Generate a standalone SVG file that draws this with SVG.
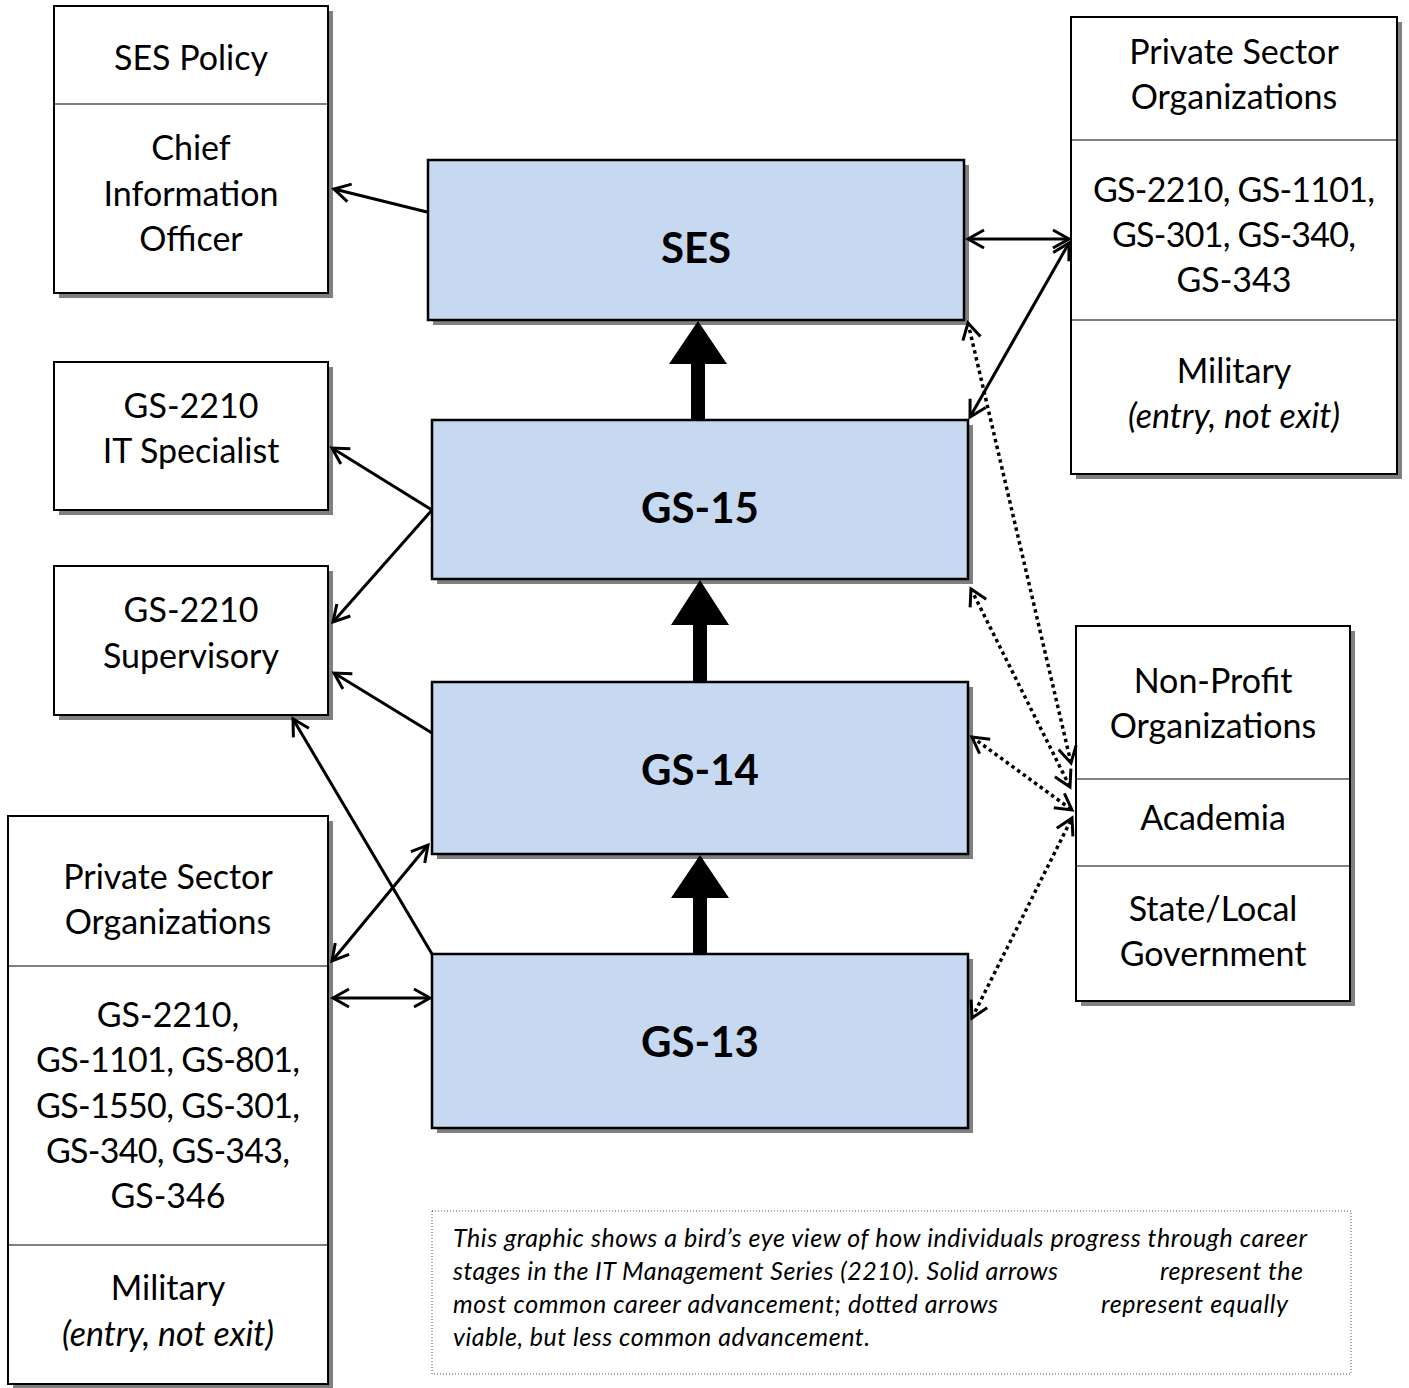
<svg xmlns="http://www.w3.org/2000/svg" width="1409" height="1388" viewBox="0 0 1409 1388">
<style>
.sh{fill:#808080;}
.box{fill:#fff;stroke:#000;stroke-width:2;}
.blue{fill:#C6D9F1;stroke:#000;stroke-width:2.5;}
.div{stroke:#808080;stroke-width:2;}
.t{font-family:Lato,"Open Sans",sans-serif;font-size:34px;fill:#000;text-anchor:middle;}
.it{font-style:italic;}
.b{font-family:Lato,"Open Sans",sans-serif;font-size:42px;font-weight:bold;fill:#000;text-anchor:middle;}
.c{font-family:Lato,"Open Sans",sans-serif;font-size:25px;font-style:italic;fill:#000;}
.ln{fill:none;stroke:#000;stroke-width:3;}
.dt{fill:none;stroke:#000;stroke-width:3.5;stroke-dasharray:3.5 3.5;}
.fat{fill:#000;}
</style>
<defs>
<marker id="ah" markerUnits="userSpaceOnUse" markerWidth="40" markerHeight="40" viewBox="-20 -20 40 40" refX="0" refY="0" orient="auto-start-reverse" overflow="visible">
<path d="M-16,-9 L0,0 L-16,9" fill="none" stroke="#000" stroke-width="3"/>
</marker>
</defs>
<rect width="1409" height="1388" fill="#fff"/>

<g id="ses-policy">
<rect class="sh" x="59" y="11" width="274" height="287"/>
<rect class="box" x="54" y="6" width="274" height="287"/>
<line class="div" x1="55" y1="104" x2="327" y2="104"/>
<text class="t" x="191" y="70">SES Policy</text>
<text class="t" x="191" y="160">Chief</text>
<text class="t" x="191" y="206">Information</text>
<text class="t" x="191" y="251">Officer</text>
</g>

<g id="it-specialist">
<rect class="sh" x="59" y="367" width="274" height="148"/>
<rect class="box" x="54" y="362" width="274" height="148"/>
<text class="t" x="191" y="418">GS-2210</text>
<text class="t" x="191" y="463">IT Specialist</text>
</g>

<g id="supervisory">
<rect class="sh" x="59" y="571" width="274" height="149"/>
<rect class="box" x="54" y="566" width="274" height="149"/>
<text class="t" x="191" y="622">GS-2210</text>
<text class="t" x="191" y="668">Supervisory</text>
</g>

<g id="private-left">
<rect class="sh" x="13" y="821" width="320" height="568"/>
<rect class="box" x="8" y="816" width="320" height="568"/>
<line class="div" x1="9" y1="966" x2="327" y2="966"/>
<line class="div" x1="9" y1="1245" x2="327" y2="1245"/>
<text class="t" x="168" y="889">Private Sector</text>
<text class="t" x="168" y="934">Organizations</text>
<text class="t" x="168" y="1027">GS-2210,</text>
<text class="t" x="168" y="1072" textLength="264">GS-1101, GS-801,</text>
<text class="t" x="168" y="1118" textLength="264">GS-1550, GS-301,</text>
<text class="t" x="168" y="1163" textLength="244">GS-340, GS-343,</text>
<text class="t" x="168" y="1208">GS-346</text>
<text class="t" x="168" y="1300">Military</text>
<text class="t it" x="168" y="1346">(entry, not exit)</text>
</g>

<g id="private-right">
<rect class="sh" x="1076" y="22" width="326" height="457"/>
<rect class="box" x="1071" y="17" width="326" height="457"/>
<line class="div" x1="1072" y1="140" x2="1396" y2="140"/>
<line class="div" x1="1072" y1="320" x2="1396" y2="320"/>
<text class="t" x="1234" y="64">Private Sector</text>
<text class="t" x="1234" y="109">Organizations</text>
<text class="t" x="1234" y="202" textLength="282">GS-2210, GS-1101,</text>
<text class="t" x="1234" y="247" textLength="244">GS-301, GS-340,</text>
<text class="t" x="1234" y="292">GS-343</text>
<text class="t" x="1234" y="383">Military</text>
<text class="t it" x="1234" y="428">(entry, not exit)</text>
</g>

<g id="nonprofit">
<rect class="sh" x="1081" y="631" width="274" height="375"/>
<rect class="box" x="1076" y="626" width="274" height="375"/>
<line class="div" x1="1077" y1="779" x2="1349" y2="779"/>
<line class="div" x1="1077" y1="866" x2="1349" y2="866"/>
<text class="t" x="1213" y="693">Non-Profit</text>
<text class="t" x="1213" y="738">Organizations</text>
<text class="t" x="1213" y="830">Academia</text>
<text class="t" x="1213" y="921">State/Local</text>
<text class="t" x="1213" y="966">Government</text>
</g>

<g id="ses">
<rect class="sh" x="433" y="165" width="536" height="160"/>
<rect class="blue" x="428" y="160" width="536" height="160"/>
<text class="b" x="696" y="263">SES</text>
</g>

<g id="gs15">
<rect class="sh" x="437" y="425" width="536" height="159"/>
<rect class="blue" x="432" y="420" width="536" height="159"/>
<text class="b" x="700" y="523">GS-15</text>
</g>

<g id="gs14">
<rect class="sh" x="437" y="687" width="536" height="172"/>
<rect class="blue" x="432" y="682" width="536" height="172"/>
<text class="b" x="700" y="785">GS-14</text>
</g>

<g id="gs13">
<rect class="sh" x="437" y="959" width="536" height="174"/>
<rect class="blue" x="432" y="954" width="536" height="174"/>
<text class="b" x="700" y="1057">GS-13</text>
</g>

<g id="caption">
<rect x="432" y="1211" width="919" height="163" fill="#fff" stroke="#555" stroke-width="1" stroke-dasharray="1 2"/>
<text class="c" x="453" y="1247" textLength="854">This graphic shows a bird’s eye view of how individuals progress through career</text>
<text class="c" x="453" y="1280" textLength="605">stages in the IT Management Series (2210). Solid arrows</text>
<text class="c" x="1160" y="1280" textLength="143">represent the</text>
<text class="c" x="453" y="1313" textLength="545">most common career advancement; dotted arrows</text>
<text class="c" x="1101" y="1313" textLength="187">represent equally</text>
<text class="c" x="453" y="1346" textLength="417">viable, but less common advancement.</text>
</g>

<g id="connectors">
<polygon class="fat" points="691,420 691,364 669,364 698,321 727,364 705,364 705,420"/>
<polygon class="fat" points="693,682 693,625 671,625 700,580 729,625 707,625 707,682"/>
<polygon class="fat" points="693,954 693,898 671,898 700,855 729,898 707,898 707,954"/>

<line class="ln" x1="427" y1="212" x2="334" y2="189" marker-end="url(#ah)"/>
<line class="ln" x1="432" y1="510" x2="332" y2="448" marker-end="url(#ah)"/>
<line class="ln" x1="432" y1="510" x2="333" y2="622" marker-end="url(#ah)"/>
<line class="ln" x1="432" y1="733" x2="334" y2="673" marker-end="url(#ah)"/>
<line class="ln" x1="432" y1="954" x2="293" y2="719" marker-end="url(#ah)"/>
<line class="ln" x1="332" y1="961" x2="428" y2="845" marker-start="url(#ah)" marker-end="url(#ah)"/>
<line class="ln" x1="333" y1="998" x2="430" y2="998" marker-start="url(#ah)" marker-end="url(#ah)"/>
<line class="ln" x1="968" y1="239" x2="1069" y2="239" marker-start="url(#ah)" marker-end="url(#ah)"/>
<line class="ln" x1="1069" y1="243" x2="970" y2="417" marker-start="url(#ah)" marker-end="url(#ah)"/>

<line class="dt" x1="968" y1="323" x2="1071" y2="763" marker-start="url(#ah)" marker-end="url(#ah)"/>
<line class="dt" x1="971" y1="589" x2="1070" y2="787" marker-start="url(#ah)" marker-end="url(#ah)"/>
<line class="dt" x1="972" y1="737" x2="1072" y2="810" marker-start="url(#ah)" marker-end="url(#ah)"/>
<line class="dt" x1="972" y1="1018" x2="1072" y2="818" marker-start="url(#ah)" marker-end="url(#ah)"/>
</g>
</svg>
